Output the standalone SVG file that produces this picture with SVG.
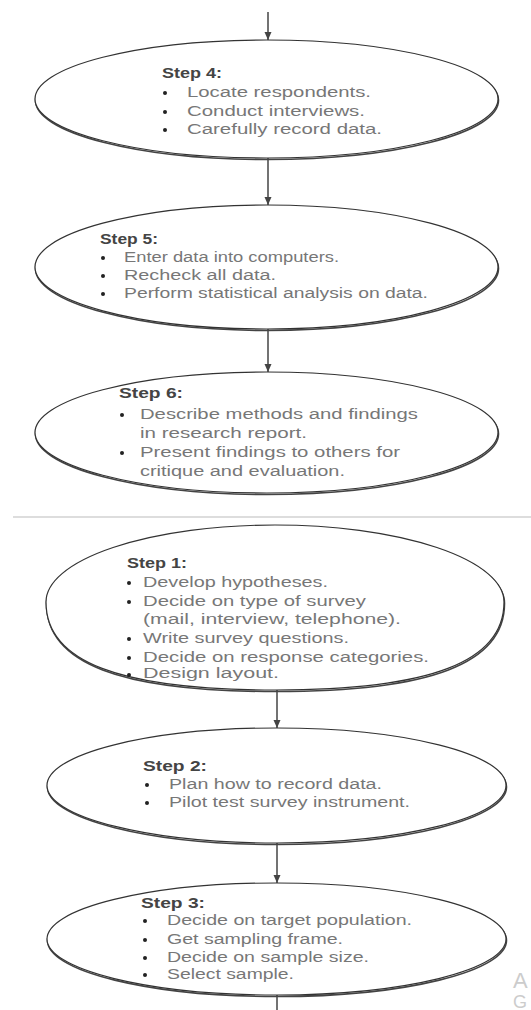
<svg xmlns="http://www.w3.org/2000/svg" width="531" height="1010" viewBox="0 0 531 1010">
<defs>
<style>
.sh{fill:none;stroke:#444;stroke-width:1.6}
.el{fill:#fff;stroke:#333;stroke-width:1.2}
.hd{font-family:"Liberation Sans",Arial,sans-serif;font-size:15px;font-weight:bold;fill:#444}
.tx{font-family:"Liberation Sans",Arial,sans-serif;font-size:14px;fill:#777}
.bu{fill:#222}
.cn{stroke:#444;stroke-width:1.5;fill:none}
.wm{font-family:"Liberation Sans",Arial,sans-serif;fill:#ccc}
</style>
<marker id="ah" markerUnits="userSpaceOnUse" markerWidth="8" markerHeight="8" refX="8" refY="4" orient="auto">
<path d="M0,0.5 L8,4 L0,7.5 z" fill="#444"/>
</marker>
</defs>
<rect width="531" height="1010" fill="#fff"/>

<g id="connectors">
<line class="cn" x1="268" y1="12" x2="268" y2="40" marker-end="url(#ah)"/>
<line class="cn" x1="268" y1="158" x2="268" y2="205" marker-end="url(#ah)"/>
<line class="cn" x1="268" y1="329" x2="268" y2="372" marker-end="url(#ah)"/>
<line class="cn" x1="277" y1="690" x2="277" y2="728" marker-end="url(#ah)"/>
<line class="cn" x1="277" y1="843" x2="277" y2="883" marker-end="url(#ah)"/>
<line class="cn" x1="277" y1="995" x2="277" y2="1010"/>
</g>

<line id="separator" x1="13" y1="517" x2="531" y2="517" stroke="#bbb" stroke-width="1.2"/>

<g id="step4">
<ellipse class="sh" cx="267" cy="100.5" rx="231.5" ry="59"/>
<ellipse class="el" cx="266.5" cy="99" rx="231.5" ry="59"/>
<text class="hd" x="162" y="78" textLength="60" lengthAdjust="spacingAndGlyphs">Step 4:</text>
<circle class="bu" cx="165" cy="93" r="2"/>
<circle class="bu" cx="165" cy="112" r="2"/>
<circle class="bu" cx="165" cy="130" r="2"/>
<text class="tx" x="187" y="97" textLength="184" lengthAdjust="spacingAndGlyphs">Locate respondents.</text>
<text class="tx" x="187" y="116" textLength="178" lengthAdjust="spacingAndGlyphs">Conduct interviews.</text>
<text class="tx" x="187" y="134" textLength="195" lengthAdjust="spacingAndGlyphs">Carefully record data.</text>
</g>

<g id="step5">
<ellipse class="sh" cx="267" cy="268.5" rx="231.5" ry="62"/>
<ellipse class="el" cx="266.5" cy="267" rx="231.5" ry="62"/>
<text class="hd" x="100" y="244" textLength="58" lengthAdjust="spacingAndGlyphs">Step 5:</text>
<circle class="bu" cx="103" cy="258" r="2"/>
<circle class="bu" cx="103" cy="276" r="2"/>
<circle class="bu" cx="103" cy="294" r="2"/>
<text class="tx" x="124" y="262" textLength="215" lengthAdjust="spacingAndGlyphs">Enter data into computers.</text>
<text class="tx" x="124" y="280" textLength="152" lengthAdjust="spacingAndGlyphs">Recheck all data.</text>
<text class="tx" x="124" y="298" textLength="304" lengthAdjust="spacingAndGlyphs">Perform statistical analysis on data.</text>
</g>

<g id="step6">
<ellipse class="sh" cx="267" cy="434" rx="231.5" ry="60.5"/>
<ellipse class="el" cx="266.5" cy="432.5" rx="231.5" ry="60.5"/>
<text class="hd" x="119" y="398" textLength="64" lengthAdjust="spacingAndGlyphs">Step 6:</text>
<circle class="bu" cx="122" cy="415" r="2"/>
<circle class="bu" cx="122" cy="453" r="2"/>
<text class="tx" x="140" y="419" textLength="278" lengthAdjust="spacingAndGlyphs">Describe methods and findings</text>
<text class="tx" x="140" y="438" textLength="167" lengthAdjust="spacingAndGlyphs">in research report.</text>
<text class="tx" x="140" y="457" textLength="260" lengthAdjust="spacingAndGlyphs">Present findings to others for</text>
<text class="tx" x="140" y="476" textLength="205" lengthAdjust="spacingAndGlyphs">critique and evaluation.</text>
</g>

<g id="step1">
<path class="sh" transform="translate(0.5,1.5)" d="M46,602 A229,77 0 0 1 504,602 C504,661.8 430.7,690 275,690 C119.3,690 46,661.8 46,602 Z"/>
<path class="el" d="M46,602 A229,77 0 0 1 504,602 C504,661.8 430.7,690 275,690 C119.3,690 46,661.8 46,602 Z"/>
<text class="hd" x="127" y="568" textLength="60" lengthAdjust="spacingAndGlyphs">Step 1:</text>
<circle class="bu" cx="129" cy="583" r="2"/>
<circle class="bu" cx="129" cy="602" r="2"/>
<circle class="bu" cx="129" cy="639" r="2"/>
<circle class="bu" cx="129" cy="658" r="2"/>
<circle class="bu" cx="129" cy="675" r="2"/>
<text class="tx" x="143" y="587" textLength="185" lengthAdjust="spacingAndGlyphs">Develop hypotheses.</text>
<text class="tx" x="143" y="606" textLength="223" lengthAdjust="spacingAndGlyphs">Decide on type of survey</text>
<text class="tx" x="143" y="624" textLength="258" lengthAdjust="spacingAndGlyphs">(mail, interview, telephone).</text>
<text class="tx" x="143" y="643" textLength="206" lengthAdjust="spacingAndGlyphs">Write survey questions.</text>
<text class="tx" x="143" y="662" textLength="286" lengthAdjust="spacingAndGlyphs">Decide on response categories.</text>
<text class="tx" x="143" y="678" textLength="136" lengthAdjust="spacingAndGlyphs">Design layout.</text>
</g>

<g id="step2">
<ellipse class="sh" cx="277" cy="787" rx="229.5" ry="57.5"/>
<ellipse class="el" cx="276.5" cy="785.5" rx="229.5" ry="57.5"/>
<text class="hd" x="143" y="771" textLength="64" lengthAdjust="spacingAndGlyphs">Step 2:</text>
<circle class="bu" cx="147" cy="785" r="2"/>
<circle class="bu" cx="147" cy="803" r="2"/>
<text class="tx" x="169" y="789" textLength="213" lengthAdjust="spacingAndGlyphs">Plan how to record data.</text>
<text class="tx" x="169" y="807" textLength="241" lengthAdjust="spacingAndGlyphs">Pilot test survey instrument.</text>
</g>

<g id="step3">
<ellipse class="sh" cx="277" cy="940.5" rx="229.5" ry="56"/>
<ellipse class="el" cx="276.5" cy="939" rx="229.5" ry="56"/>
<text class="hd" x="141" y="908" textLength="64" lengthAdjust="spacingAndGlyphs">Step 3:</text>
<circle class="bu" cx="145" cy="921" r="2"/>
<circle class="bu" cx="145" cy="940" r="2"/>
<circle class="bu" cx="145" cy="958" r="2"/>
<circle class="bu" cx="145" cy="975" r="2"/>
<text class="tx" x="167" y="925" textLength="245" lengthAdjust="spacingAndGlyphs">Decide on target population.</text>
<text class="tx" x="167" y="944" textLength="176" lengthAdjust="spacingAndGlyphs">Get sampling frame.</text>
<text class="tx" x="167" y="962" textLength="202" lengthAdjust="spacingAndGlyphs">Decide on sample size.</text>
<text class="tx" x="167" y="979" textLength="127" lengthAdjust="spacingAndGlyphs">Select sample.</text>
</g>

<g id="watermark">
<text class="wm" x="513" y="988" font-size="22">A</text>
<text class="wm" x="513" y="1008" font-size="18">G</text>
</g>
</svg>
